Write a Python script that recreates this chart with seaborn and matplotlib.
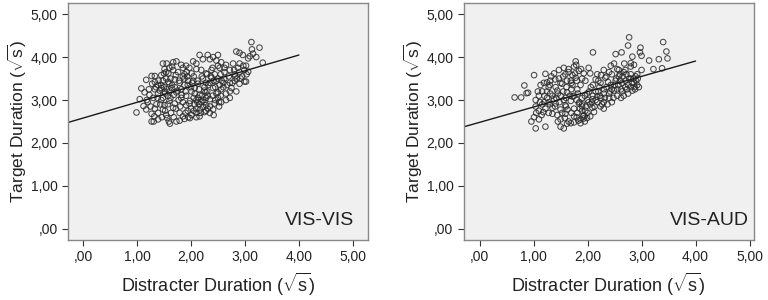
import numpy as np
import pandas as pd
import matplotlib
matplotlib.use('Agg')
import matplotlib.pyplot as plt
import seaborn as sns

# points (distracter, target), sqrt seconds
vis_vis_points = [
    (3.12, 4.35), (3.27, 4.22), (2.84, 4.13), (2.90, 4.10), (2.96, 4.05), (3.13, 4.18), (3.15, 4.08),
    (3.21, 4.00), (2.16, 4.05), (2.31, 4.05), (2.50, 4.05), (2.41, 4.00), (3.06, 3.97), (3.09, 4.02),
    (1.48, 3.85), (1.67, 3.88), (1.73, 3.90), (1.91, 3.80), (2.04, 3.90), (2.22, 3.95), (2.35, 3.95),
    (2.47, 3.92), (2.56, 3.88), (2.65, 3.82), (2.78, 3.85), (2.90, 3.85), (3.02, 3.80), (3.33, 3.87),
    (1.82, 3.82), (2.10, 3.85),
    (1.27, 3.56), (1.33, 3.56), (1.51, 3.72), (1.54, 3.65), (1.60, 3.75), (1.67, 3.70), (1.76, 3.65),
    (1.85, 3.75), (1.88, 3.60), (2.01, 3.62), (2.10, 3.72), (2.19, 3.70), (2.28, 3.62), (2.38, 3.70),
    (2.44, 3.60), (2.53, 3.75), (2.62, 3.65), (2.72, 3.70), (2.81, 3.60), (2.90, 3.65), (2.99, 3.70),
    (3.06, 3.66),
    (1.17, 3.47), (1.33, 3.42), (1.39, 3.35), (1.48, 3.45), (1.54, 3.50), (1.60, 3.38), (1.70, 3.48),
    (1.79, 3.40), (1.88, 3.50), (1.94, 3.35), (2.04, 3.45), (2.13, 3.38), (2.22, 3.50), (2.28, 3.40),
    (2.38, 3.52), (2.47, 3.45), (2.53, 3.35), (2.62, 3.50), (2.72, 3.40), (2.81, 3.45), (2.90, 3.38),
    (2.99, 3.43), (3.02, 3.43),
    (1.08, 3.27), (1.14, 3.18), (1.23, 3.12), (1.33, 3.25), (1.39, 3.15), (1.45, 3.28), (1.51, 3.20),
    (1.57, 3.10), (1.64, 3.28), (1.73, 3.18), (1.82, 3.25), (1.91, 3.10), (2.01, 3.20), (2.07, 3.28),
    (2.16, 3.12), (2.25, 3.22), (2.31, 3.10), (2.41, 3.28), (2.50, 3.18), (2.56, 3.25), (2.65, 3.15),
    (2.75, 3.28), (2.84, 3.20),
    (1.05, 3.02), (1.12, 2.86), (1.20, 2.95), (1.30, 3.05), (1.36, 2.90), (1.45, 3.00), (1.51, 2.88),
    (1.60, 2.98), (1.70, 2.92), (1.82, 3.05), (1.91, 2.88), (1.98, 2.98), (2.07, 2.90), (2.13, 3.05),
    (2.19, 2.95), (2.28, 2.88), (2.35, 3.02), (2.44, 2.92), (2.50, 3.05), (2.56, 2.95), (2.65, 3.00),
    (2.72, 3.05),
    (1.17, 2.78), (1.27, 2.68), (1.33, 2.80), (1.39, 2.70), (1.48, 2.78), (1.54, 2.65), (1.67, 2.82),
    (1.79, 2.70), (1.85, 2.62), (1.94, 2.75), (2.01, 2.65), (2.10, 2.80), (2.16, 2.62), (2.25, 2.72),
    (2.31, 2.80), (2.41, 2.78), (2.22, 2.84),
    (0.99, 2.71), (1.27, 2.50), (1.31, 2.50), (1.39, 2.55), (1.59, 2.50), (1.61, 2.45), (1.73, 2.50),
    (1.79, 2.52), (1.88, 2.56), (1.98, 2.58), (2.10, 2.60),
    (1.45, 3.35), (1.50, 3.30), (1.55, 3.25), (1.60, 3.20), (1.65, 3.35), (1.70, 3.30), (1.75, 3.22),
    (1.58, 3.42), (1.52, 3.15), (1.68, 3.12), (1.42, 3.22), (1.48, 3.05), (1.62, 3.05), (1.78, 3.45),
    (1.85, 3.55), (1.72, 3.58), (1.58, 3.62), (1.92, 3.65), (1.65, 3.78), (1.55, 3.85),
    (2.10, 3.00), (2.15, 2.90), (2.20, 3.10), (2.25, 3.30), (2.30, 3.20), (2.35, 3.40), (2.40, 3.10),
    (2.45, 3.30), (2.50, 3.50), (2.55, 3.60), (2.60, 3.40), (2.20, 3.55), (2.30, 3.60), (2.40, 3.75),
    (2.50, 3.80), (2.15, 3.25), (2.05, 3.05), (2.00, 2.80), (2.10, 2.70), (2.25, 2.95), (2.35, 2.85),
    (2.45, 3.00), (2.55, 3.10), (2.60, 3.30), (2.70, 3.55), (2.80, 3.70), (2.85, 3.50), (2.95, 3.55),
    (2.05, 3.55), (1.95, 3.45), (1.90, 3.20), (1.85, 2.95), (1.80, 2.85), (1.90, 2.70), (1.95, 2.60),
    (2.00, 3.30), (2.12, 3.45), (2.28, 3.05), (2.42, 2.65), (2.52, 2.85),
    (1.35, 3.30), (1.40, 3.45), (1.45, 3.58), (1.50, 3.62), (1.38, 3.05), (1.43, 2.90), (1.52, 2.75),
    (1.56, 2.58), (1.63, 2.70), (1.68, 2.60), (1.72, 2.80), (1.77, 3.00), (1.83, 3.12), (1.88, 3.35),
    (1.93, 3.55), (1.97, 3.75), (2.02, 3.40), (2.07, 3.15), (2.12, 2.95), (2.17, 2.78), (2.22, 3.00),
    (2.27, 3.18), (2.32, 3.35), (2.37, 3.55), (2.42, 3.45), (2.47, 3.15), (2.52, 2.95), (2.57, 3.45),
    (2.62, 3.75), (2.67, 3.35), (2.72, 3.20), (2.77, 3.40), (2.82, 3.55), (2.87, 3.75), (2.92, 3.50),
    (2.97, 3.80), (3.03, 3.60), (2.35, 2.70), (2.28, 2.75), (2.18, 2.70), (2.05, 2.75), (1.97, 2.92),
    (1.62, 3.50), (1.28, 3.38), (1.22, 3.25), (1.18, 3.00), (1.25, 2.85), (1.32, 2.62), (1.46, 2.60),
    (1.57, 2.90),
]

vis_aud_points = [
    (0.65, 3.06), (0.77, 3.06), (0.83, 3.34), (0.87, 3.16), (0.90, 3.17), (1.01, 3.58), (0.96, 2.50),
    (1.04, 2.34), (1.22, 2.38), (1.22, 3.61), (1.25, 3.41), (1.30, 3.35), (2.10, 4.11), (2.52, 4.07),
    (2.63, 4.11), (2.77, 4.46), (2.75, 4.27), (2.98, 4.22), (2.97, 4.11), (3.00, 4.03), (3.00, 3.70),
    (3.14, 3.92), (3.22, 3.72), (3.32, 3.95), (3.38, 3.74), (3.40, 4.35), (3.46, 4.13), (3.48, 3.97),
    (2.80, 3.86), (2.83, 4.01), (1.78, 3.90), (1.79, 3.82), (1.50, 2.38), (1.56, 2.34), (1.69, 2.46),
    (1.87, 2.46), (1.93, 2.57),
    (1.38, 3.62), (1.47, 3.70), (1.56, 3.75), (1.65, 3.72), (1.75, 3.78), (1.84, 3.68), (1.93, 3.62),
    (2.02, 3.75), (2.18, 3.60), (2.30, 3.70), (2.43, 3.80), (2.49, 3.85), (2.55, 3.72), (2.67, 3.65),
    (2.80, 3.78), (2.86, 3.82), (2.92, 3.60), (1.59, 3.60), (1.72, 3.58),
    (1.13, 3.35), (1.19, 3.40), (1.31, 3.45), (1.41, 3.30), (1.47, 3.50), (1.53, 3.38), (1.61, 3.30),
    (1.69, 3.45), (1.78, 3.52), (1.87, 3.35), (1.96, 3.45), (2.06, 3.30), (2.15, 3.48), (2.24, 3.40),
    (2.33, 3.52), (2.43, 3.35), (2.52, 3.45), (2.58, 3.55), (2.64, 3.40), (2.70, 3.30), (2.80, 3.50),
    (2.86, 3.40), (2.92, 3.35), (2.95, 3.30), (2.89, 3.55),
    (1.04, 3.00), (1.10, 3.10), (1.16, 3.20), (1.25, 3.05), (1.31, 3.15), (1.38, 3.02), (1.44, 3.22),
    (1.50, 3.10), (1.56, 3.00), (1.62, 3.18), (1.72, 3.08), (1.81, 3.25), (1.90, 3.05), (1.99, 3.15),
    (2.09, 3.02), (2.15, 3.20), (2.23, 3.10), (2.30, 3.25), (2.40, 3.15), (2.49, 3.22), (2.55, 3.10),
    (2.64, 3.20), (2.73, 3.25), (2.83, 3.22),
    (1.04, 2.85), (1.10, 2.75), (1.16, 2.90), (1.22, 2.80), (1.28, 2.95), (1.35, 2.82), (1.41, 2.92),
    (1.50, 2.78), (1.59, 2.88), (1.69, 2.98), (1.75, 2.80), (1.84, 2.92), (1.90, 2.85), (1.96, 2.75),
    (2.02, 2.95), (2.09, 2.82), (2.18, 2.95), (2.24, 2.85), (2.30, 2.80), (2.37, 2.90),
    (1.01, 2.60), (1.10, 2.55), (1.28, 2.70), (1.44, 2.65), (1.50, 2.55), (1.59, 2.68), (1.65, 2.50),
    (1.75, 2.62), (1.81, 2.70), (1.87, 2.55), (1.93, 2.65), (1.99, 2.58), (1.75, 2.48),
    (1.45, 3.15), (1.55, 3.20), (1.60, 3.05), (1.70, 3.25), (1.75, 3.10), (1.80, 3.00), (1.85, 2.95),
    (1.90, 2.90), (1.95, 3.10), (2.00, 3.00), (2.05, 2.90), (2.10, 3.10), (2.15, 3.00), (2.20, 3.20),
    (2.25, 3.05), (2.30, 3.15), (2.35, 3.30), (2.40, 3.05), (2.45, 3.25), (2.50, 3.35), (2.55, 3.25),
    (2.60, 3.45), (2.65, 3.55), (2.70, 3.45), (2.75, 3.35), (2.80, 3.30), (2.85, 3.50), (2.90, 3.45),
    (1.50, 3.40), (1.55, 3.55), (1.65, 3.65), (1.70, 3.40), (1.80, 3.45), (1.90, 3.50), (1.60, 2.85),
    (1.70, 2.70), (1.80, 2.60), (1.90, 2.75), (1.95, 2.50), (2.00, 2.70), (1.40, 2.85), (1.35, 3.10),
    (1.30, 2.90), (1.20, 2.95), (1.25, 3.20), (1.15, 2.65), (1.05, 2.70), (2.10, 3.35), (2.20, 3.45),
    (2.35, 3.55), (2.45, 3.60), (2.60, 3.60), (2.70, 3.70), (2.80, 3.60), (2.88, 3.25), (2.75, 3.15),
    (2.62, 3.05), (2.45, 2.95), (2.30, 2.95), (2.12, 2.72),
    (1.20, 3.10), (1.28, 3.30), (1.33, 3.55), (1.42, 3.05), (1.48, 2.95), (1.53, 2.70), (1.58, 2.58),
    (1.63, 2.78), (1.67, 3.10), (1.72, 3.35), (1.77, 3.62), (1.82, 3.15), (1.86, 2.80), (1.92, 2.62),
    (1.97, 2.85), (2.03, 3.20), (2.08, 2.95), (2.13, 2.85), (2.18, 3.08), (2.22, 3.30), (2.27, 2.90),
    (2.32, 3.05), (2.38, 3.42), (2.42, 3.20), (2.48, 3.05), (2.53, 3.50), (2.57, 3.35), (2.62, 3.25),
    (2.67, 3.10), (2.72, 3.60), (2.77, 3.50), (2.82, 3.40), (2.87, 3.30), (2.93, 3.50), (2.68, 3.85),
    (2.58, 3.70), (2.40, 3.65), (2.25, 3.58), (2.05, 3.62), (1.88, 3.72), (1.62, 3.45), (1.40, 3.48),
    (1.12, 2.95), (1.08, 3.20), (1.18, 2.72), (1.35, 2.68), (1.45, 2.50), (1.62, 2.45), (1.83, 2.52),
    (2.05, 2.62),
]

# fit lines as drawn (intercept, slope), both end at x = 4
vis_vis_fit = (2.58, 0.367)
vis_aud_fit = (2.48, 0.357)
fit_x_end = 4.0

tick_values = [0, 1, 2, 3, 4, 5]
tick_labels = [',00', '1,00', '2,00', '3,00', '4,00', '5,00']
panel_names = ['VIS-VIS', 'VIS-AUD']

sns.set_style('white')
plt.rcParams['font.family'] = ['Liberation Sans', 'DejaVu Sans']
plt.rcParams['mathtext.fontset'] = 'custom'
plt.rcParams['mathtext.rm'] = 'Liberation Sans'
plt.rcParams['mathtext.it'] = 'Liberation Sans'

fig = plt.figure(figsize=(7.68, 3.0), dpi=100)
ax_left = fig.add_axes([0.0885, 0.2, 0.3906, 0.79])
ax_right = fig.add_axes([0.604, 0.2, 0.3776, 0.79])

panels = [
    (ax_left, vis_vis_points, vis_vis_fit, (-0.28, 5.28)),
    (ax_right, vis_aud_points, vis_aud_fit, (-0.29, 5.08)),
]

for i, (ax, pts, fit, xlim) in enumerate(panels):
    df = pd.DataFrame(pts, columns=['distracter', 'target'])
    ax.set_facecolor('#f0f0f0')
    sns.scatterplot(data=df, x='distracter', y='target', ax=ax, marker='o', s=16,
                    facecolors='none', edgecolor='#2a2a2a', linewidth=0.75, alpha=0.85)
    xs = np.array([xlim[0], fit_x_end])
    ax.plot(xs, fit[0] + fit[1] * xs, color='#1a1a1a', linewidth=1.0)
    ax.set_xlim(*xlim)
    ax.set_ylim(-0.26, 5.26)
    ax.set_xticks(tick_values)
    ax.set_xticklabels(tick_labels)
    ax.set_yticks(tick_values)
    ax.set_yticklabels(tick_labels)
    ax.tick_params(axis='both', direction='out', length=4, width=0.8, color='#333333',
                   labelsize=10, labelcolor='#222222', bottom=True, left=True)
    for sp in ax.spines.values():
        sp.set_color('#888888')
        sp.set_linewidth(1.0)
    ax.set_xlabel(r'Distracter Duration ($\sqrt{\mathrm{s}}$)', fontsize=13, color='#222222', labelpad=5)
    ax.set_ylabel(r'Target Duration ($\sqrt{\mathrm{s}}$)', fontsize=12.5, color='#222222', labelpad=1)
    ax.text(0.955 if i == 0 else 0.983, 0.045, panel_names[i], transform=ax.transAxes,
            ha='right', va='bottom', fontsize=14, color='#222222')

fig.savefig('out.png', dpi=100, facecolor='white')
plt.close(fig)
